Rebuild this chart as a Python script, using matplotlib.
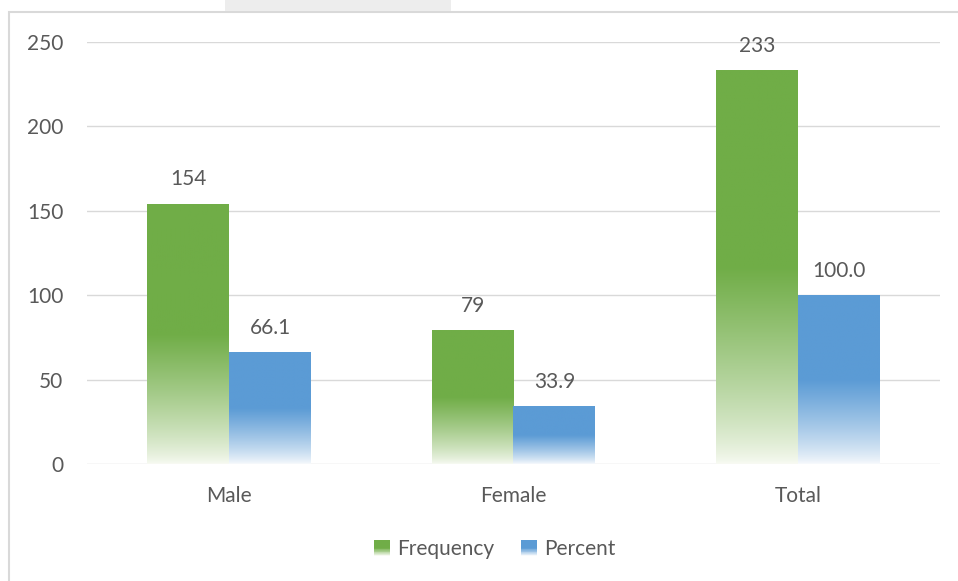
import numpy as np
import matplotlib.pyplot as plt
from matplotlib.colors import to_rgb
from matplotlib.patches import Rectangle
from matplotlib.legend_handler import HandlerBase

categories = ["Male", "Female", "Total"]
frequency = [154, 79, 233]
percent = [66.1, 33.9, 100.0]
freq_labels = ["154", "79", "233"]
pct_labels = ["66.1", "33.9", "100.0"]
yticks = [0, 50, 100, 150, 200, 250]

GREEN = "#70AD47"
BLUE = "#5B9BD5"
TEXT = "#595959"
FS = 15

plt.rcParams['font.family'] = ['Lato', 'DejaVu Sans']


def gradient(color, n=256):
    # solid in the top half, fading to near white towards the bottom
    c = np.array(to_rgb(color))
    w = np.array([0.97, 0.98, 0.99]) if color == BLUE else np.array([0.97, 0.98, 0.95])
    t = np.linspace(0, 1, n)  # 0 = bottom, 1 = top
    f = np.clip(t / 0.5, 0, 1)[:, None]
    f = f ** 0.8
    rows = w * (1 - f) + c * f
    return rows[::-1][:, None, :]  # top row first


class GradHandler(HandlerBase):
    def __init__(self, color):
        super().__init__()
        self.color = color

    def create_artists(self, legend, orig_handle, xdescent, ydescent, width, height, fontsize, trans):
        g = gradient(self.color, 20)[::-1, 0, :]
        size = height * 0.9
        x0 = -xdescent + width - size
        y0 = -ydescent + (height - size) / 2
        arts = []
        for i in range(20):
            r = Rectangle((x0, y0 + size * i / 20), size, size / 20 + 0.05,
                          facecolor=g[i], edgecolor='none', transform=trans)
            arts.append(r)
        return arts


fig = plt.figure(figsize=(9.58, 5.81), dpi=100)
ax = fig.add_axes([87 / 958, (581 - 464) / 581, (940 - 87) / 958, (464 - 42) / 581])

x = np.arange(len(categories))
w = 0.288
b1 = ax.bar(x - w / 2, frequency, w, facecolor='none', edgecolor='none')
b2 = ax.bar(x + w / 2, percent, w, facecolor='none', edgecolor='none')

for bars, col in [(b1, GREEN), (b2, BLUE)]:
    img = gradient(col)
    for p in bars:
        x0 = p.get_x()
        ax.imshow(img, extent=(x0, x0 + p.get_width(), 0, p.get_height()),
                  aspect='auto', zorder=2, interpolation='bilinear')

for bars, labs in [(b1, freq_labels), (b2, pct_labels)]:
    for p, lab in zip(bars, labs):
        ax.annotate(lab, (p.get_x() + p.get_width() / 2, p.get_height()),
                    xytext=(0, 10.5), textcoords='offset points',
                    ha='center', va='bottom', fontsize=FS, color=TEXT)

ax.set_xlim(-0.5, 2.5)
ax.set_ylim(0, 250)
ax.set_yticks(yticks)
ax.set_xticks(x)
ax.set_xticklabels(categories)
ax.tick_params(axis='both', length=0, labelsize=FS, labelcolor=TEXT)
ax.tick_params(axis='y', pad=17)
ax.tick_params(axis='x', pad=16)
ax.grid(axis='y', color='#D9D9D9', linewidth=1.0, zorder=0)
ax.set_axisbelow(True)
for s in ax.spines.values():
    s.set_visible(False)

h1 = Rectangle((0, 0), 1, 1, color=GREEN)
h2 = Rectangle((0, 0), 1, 1, color=BLUE)
fig.legend([h1, h2], ["Frequency", "Percent"], loc='center',
           bbox_to_anchor=(495 / 958, 1 - 549 / 581), ncol=2, frameon=False,
           fontsize=FS, labelcolor=TEXT, handlelength=0.75, handleheight=0.9,
           handletextpad=0.35, columnspacing=1.3,
           handler_map={h1: GradHandler(GREEN), h2: GradHandler(BLUE)})

# chart border and the bit of page above it
fig.patches.append(Rectangle((9 / 958, -0.02), 1.0, 1 - 12 / 581 + 0.02,
                             transform=fig.transFigure, fill=False,
                             edgecolor='#D9D9D9', linewidth=1.5))
fig.patches.append(Rectangle((225 / 958, 1 - 11 / 581), 226 / 958, 11 / 581,
                             transform=fig.transFigure, facecolor='#EDEDED',
                             edgecolor='none'))

fig.savefig("out.png", dpi=100)
